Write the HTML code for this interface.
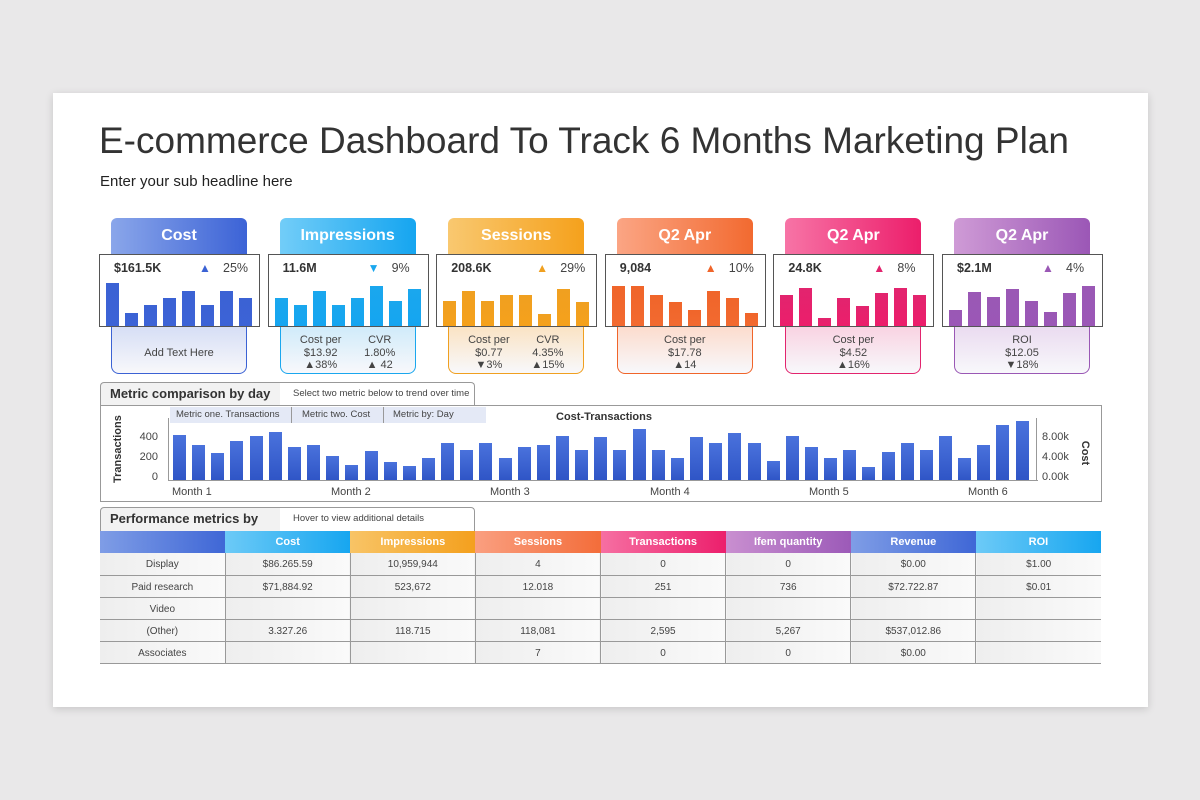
<!DOCTYPE html>
<html><head><meta charset="utf-8"><style>
*{margin:0;padding:0;box-sizing:border-box}
body{width:1200px;height:800px;background:#e9e8e9;font-family:"Liberation Sans",sans-serif;position:relative;overflow:hidden}
.a{position:absolute}
.sheet{left:53px;top:93px;width:1095px;height:614px;background:#fff;box-shadow:0 2px 8px rgba(0,0,0,.15)}
.hd{height:36px;border-radius:6px 6px 0 0;color:#fff;font-weight:bold;font-size:16px;text-align:center;line-height:36px}
.box{height:73px;border:1.5px solid #555;background:#fff}
.bot{height:47px;border-radius:0 0 8px 8px;font-size:11px;color:#444;text-align:center;line-height:12.5px}
.bar{position:absolute;width:13px;bottom:0}
.tab{border:1px solid #999;border-bottom:none;border-radius:4px 4px 0 0;background:#fff}
td{border-bottom:1.5px solid #999;border-right:1.5px solid #999;font-size:10px;color:#444;text-align:center;height:22px;line-height:18px;padding:3px 0 0 0;vertical-align:middle;background:linear-gradient(90deg,#eee,#fafafa)}
th{color:#fff;font-size:11px;height:22px;font-weight:bold;padding:0}
</style></head><body>
<div class="a sheet"></div>
<div class="a" style="left:99px;top:120px;font-size:37px;color:#333">E-commerce Dashboard To Track 6 Months Marketing Plan</div>
<div class="a" style="left:100px;top:173px;font-size:15px;color:#222">Enter your sub headline here</div>
<div id="cards"></div>

<div class="a tab" style="left:100px;top:382px;width:375px;height:24px;background:linear-gradient(90deg,#f2f2f2 48%,#fff 48%)"></div>
<div class="a" style="left:110px;top:386px;font-size:13px;font-weight:bold;color:#333">Metric comparison by day</div>
<div class="a" style="left:293px;top:388px;font-size:9.5px;color:#444">Select two metric below to trend over time</div>
<div class="a" style="left:100px;top:405px;width:1002px;height:97px;border:1.5px solid #999;background:#fff"></div>
<div class="a" style="left:170px;top:407px;width:316px;height:16px;background:#e4e9f6"></div>
<div class="a" style="left:176px;top:409px;font-size:9.5px;color:#444">Metric one. Transactions</div>
<div class="a" style="left:291px;top:407px;width:1px;height:16px;background:#999"></div>
<div class="a" style="left:302px;top:409px;font-size:9.5px;color:#444">Metric two. Cost</div>
<div class="a" style="left:383px;top:407px;width:1px;height:16px;background:#999"></div>
<div class="a" style="left:393px;top:409px;font-size:9.5px;color:#444">Metric by: Day</div>
<div class="a" style="left:556px;top:411px;font-size:11px;font-weight:bold;color:#333">Cost-Transactions</div>
<div class="a" style="left:88px;top:447px;font-size:11px;font-weight:bold;color:#333;transform:rotate(-90deg);width:60px;text-align:center">Transactions</div>
<div class="a" style="left:1055px;top:447px;font-size:11px;font-weight:bold;color:#333;transform:rotate(90deg);width:60px;text-align:center">Cost</div>
<div class="a" style="left:138px;top:427px;font-size:11px;color:#444;line-height:20px;text-align:right;width:20px">400<br>200<br>0</div>
<div class="a" style="left:1042px;top:427px;font-size:11px;color:#444;line-height:20px">8.00k<br>4.00k<br>0.00k</div>
<div class="a" style="left:168px;top:418px;width:1px;height:63px;background:#999"></div>
<div class="a" style="left:168px;top:480px;width:870px;height:1px;background:#999"></div>
<div class="a" style="left:1036px;top:418px;width:1px;height:63px;background:#999"></div>
<div id="big"></div>
<div class="a" style="left:172px;top:486px;font-size:11px;color:#444">Month 1</div>
<div class="a" style="left:331px;top:486px;font-size:11px;color:#444">Month 2</div>
<div class="a" style="left:490px;top:486px;font-size:11px;color:#444">Month 3</div>
<div class="a" style="left:650px;top:486px;font-size:11px;color:#444">Month 4</div>
<div class="a" style="left:809px;top:486px;font-size:11px;color:#444">Month 5</div>
<div class="a" style="left:968px;top:486px;font-size:11px;color:#444">Month 6</div>

<div class="a tab" style="left:100px;top:507px;width:375px;height:24px;background:linear-gradient(90deg,#f2f2f2 48%,#fff 48%)"></div>
<div class="a" style="left:110px;top:511px;font-size:13px;font-weight:bold;color:#333">Performance metrics by</div>
<div class="a" style="left:293px;top:513px;font-size:9.5px;color:#444">Hover to view additional details</div>
<table class="a" style="left:100px;top:531px;width:1001px;border-collapse:collapse;table-layout:fixed">
<tr>
<th style="background:linear-gradient(90deg,#7f9de6,#3f67d6)"></th>
<th style="background:linear-gradient(90deg,#6ccaf7,#17a6f0)">Cost</th>
<th style="background:linear-gradient(90deg,#f8c466,#f4a01e)">Impressions</th>
<th style="background:linear-gradient(90deg,#fa9f80,#f36d3a)">Sessions</th>
<th style="background:linear-gradient(90deg,#f66fa2,#ec1f6c)">Transactions</th>
<th style="background:linear-gradient(90deg,#c98fd0,#9c5ab8)">Ifem quantity</th>
<th style="background:linear-gradient(90deg,#7f9de6,#3f67d6)">Revenue</th>
<th style="background:linear-gradient(90deg,#6ccaf7,#17a6f0)">ROI</th></tr>
<tr><td>Display</td><td>$86.265.59</td><td>10,959,944</td><td>4</td><td>0</td><td>0</td><td>$0.00</td><td style="border-right:none">$1.00</td></tr>
<tr><td>Paid research</td><td>$71,884.92</td><td>523,672</td><td>12.018</td><td>251</td><td>736</td><td>$72.722.87</td><td style="border-right:none">$0.01</td></tr>
<tr><td>Video</td><td></td><td></td><td></td><td></td><td></td><td></td><td style="border-right:none"></td></tr>
<tr><td>(Other)</td><td>3.327.26</td><td>118.715</td><td>118,081</td><td>2,595</td><td>5,267</td><td>$537,012.86</td><td style="border-right:none"></td></tr>
<tr><td>Associates</td><td></td><td></td><td>7</td><td>0</td><td>0</td><td>$0.00</td><td style="border-right:none"></td></tr>
</table>
<script>
var cards=[
["Cost","#8aa6ea","#3c63d6","#3b62d4","$161.5K","▲","25%",[283,313,305,298,291,305,291,298],"#d6def5","Add Text Here",null],
["Impressions","#72cdf8","#15a5f0","#1aa7ee","11.6M","▼","9%",[298,305,291,305,298,286,301,289],"#d0ebfa",null,["Cost per<br>$13.92<br>▲38%","CVR<br>1.80%<br>▲ 42"]],
["Sessions","#f9c870","#f5a11c","#f0a020","208.6K","▲","29%",[301,291,301,295,295,314,289,302],"#fae3c4",null,["Cost per<br>$0.77<br>▼3%","CVR<br>4.35%<br>▲15%"]],
["Q2 Apr","#fba584","#f26a30","#f0652a","9,084","▲","10%",[286,286,295,302,310,291,298,313],"#fcdccd","Cost per<br>$17.78<br>▲14",null],
["Q2 Apr","#f774a6","#ec1e6b","#e2246e","24.8K","▲","8%",[295,288,318,298,306,293,288,295],"#f9d3e2","Cost per<br>$4.52<br>▲16%",null],
["Q2 Apr","#cf9bd6","#9b57b6","#9a58b5","$2.1M","▲","4%",[310,292,297,289,301,312,293,286],"#eadbf0","ROI<br>$12.05<br>▼18%",null]];
var h="";
cards.forEach(function(c,i){
 var L=99+i*168.6;
 h+='<div class="a hd" style="left:'+(L+12)+'px;top:218px;width:136px;background:linear-gradient(90deg,'+c[1]+','+c[2]+')">'+c[0]+'</div>';
 h+='<div class="a bot" style="left:'+(L+12)+'px;top:327px;width:136px;border:1px solid '+c[3]+';border-top:none;background:linear-gradient(180deg,'+c[8]+',#f8f8fb)">';
 if(c[10]) h+='<div style="display:flex;justify-content:space-around;padding:7px 8px 0">'+c[10].map(function(t){return '<div>'+t+'</div>'}).join('')+'</div>';
 else if(c[9].indexOf('<br>')>0) h+='<div style="padding-top:7px">'+c[9]+'</div>';
 else h+='<div style="padding-top:20px">'+c[9]+'</div>';
 h+='</div>';
 h+='<div class="a box" style="left:'+L+'px;top:254px;width:161px">';
 h+='<div class="a" style="left:14px;top:6px;font-size:12.5px;font-weight:bold;color:#333">'+c[4]+'</div>';
 h+='<div class="a" style="left:99px;top:6px;font-size:12px;color:'+c[3]+'">'+c[5]+'</div>';
 h+='<div class="a" style="left:123px;top:6px;font-size:12.5px;color:#444">'+c[6]+'</div>';
 c[7].forEach(function(t,j){h+='<div class="bar" style="left:'+(6+j*19)+'px;height:'+(326-t)+'px;background:linear-gradient(180deg,'+c[3]+','+c[2]+')"></div>'});
 h+='</div>';
});
document.getElementById('cards').innerHTML=h;
var tops=[435,445,453,441,436,432,447,445,456,465,451,462,466,458,443,450,443,458,447,445,436,450,437,450,429,450,458,437,443,433,443,461,436,447,458,450,467,452,443,450,436,458,445,425,421];
var b="";
tops.forEach(function(t,i){b+='<div class="a" style="left:'+(173+i*19.15)+'px;top:'+t+'px;width:13px;height:'+(480-t)+'px;background:linear-gradient(180deg,#4a72dc,#2f55c6)"></div>'});
document.getElementById('big').innerHTML=b;
</script>
</body></html>
